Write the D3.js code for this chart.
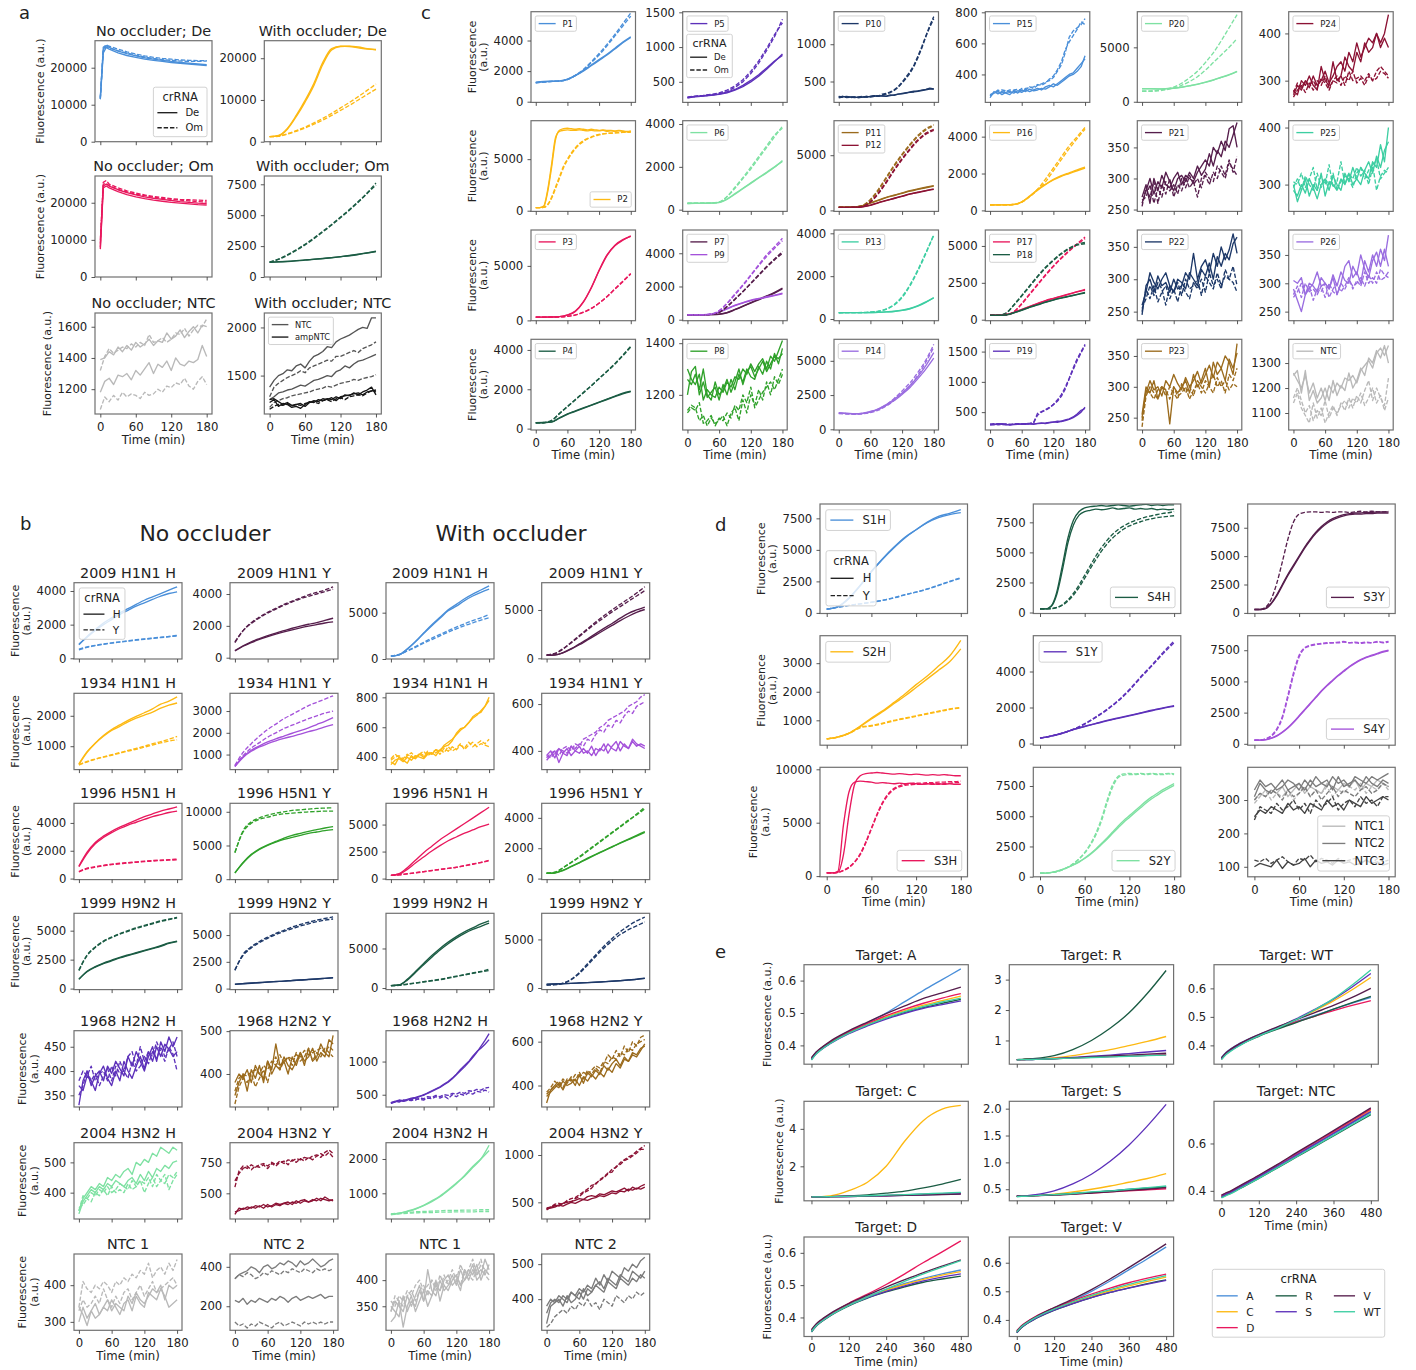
<!DOCTYPE html>
<html><head><meta charset="utf-8">
<script src="https://cdn.jsdelivr.net/npm/d3@7"></script>
<style>
body{margin:0;background:#fff}
svg{display:block}
text{font-family:"DejaVu Sans",sans-serif;fill:#222}
</style>
</head><body>
<svg id="fig" width="1416" height="1370"></svg>
<script>
// ---------- sampling times (min) ----------
const T13=[0,15,30,45,60,75,90,105,120,135,150,165,180];
const T25=[0,7.5,15,22.5,30,37.5,45,52.5,60,67.5,75,82.5,90,97.5,105,112.5,120,127.5,135,142.5,150,157.5,165,172.5,180];
const TA=[0,5,10,15,30,45,60,75,90,105,120,135,150,165,180];
const TE=[0,15,30,60,120,180,240,300,360,420,480];

// ---------- colours ----------
const COL={blue:"#4a8fd9",yellow:"#fdb913",red:"#e8185d",dgreen:"#1b5c44",purple:"#5d31ba",lpurple:"#a452da",
  lav:"#9a6de0",dpurple:"#561e4c",navy:"#1d3868",teal:"#3dcea2",lgreen:"#7ee1a2",green:"#2fa12a",brown:"#9b6b1d",
  crimson:"#8c1234",lgray:"#b9b9b9",gray:"#7c7c7c",dgray:"#444444",ntc:"#555555",black:"#161616",key:"#222222"};

// ---------- a: series [colour, dashed, values] ----------
const aNoDe=[
 ["blue",0,[11500,24000,25500,25000,24000,23300,22800,22300,22000,21700,21400,21200,21000,20800,20600]],
 ["blue",0,[12000,25000,26000,25500,24500,23800,23200,22700,22300,22000,21700,21400,21200,21000,20800]],
 ["blue",1,[11500,25500,26200,25800,25000,24300,23700,23200,22800,22500,22300,22100,22000,21900,21900]],
 ["blue",1,[11800,24800,25600,25300,24600,24000,23400,22900,22500,22200,22000,21800,21700,21700,21800]]];
const aWiDe=[
 ["yellow",0,[1200,1400,3000,6000,9500,13500,18500,22000,22800,22900,22700,22300,22000]],
 ["yellow",0,[1200,1500,3200,6300,9900,14000,19000,22300,22900,22800,22500,22200,22100]],
 ["yellow",1,[1200,1300,1800,2500,3300,4200,5200,6300,7500,8700,10000,11300,12600]],
 ["yellow",1,[1200,1350,1900,2650,3500,4500,5600,6800,8100,9400,10800,12300,13800]]];
const aNoOm=[
 ["red",0,[7500,24000,24500,24000,23000,22200,21600,21100,20700,20400,20100,19900,19700,19500,19400]],
 ["red",0,[8000,24500,25000,24500,23500,22700,22100,21600,21200,20900,20600,20300,20100,19900,19800]],
 ["red",1,[10000,25500,26000,25000,24000,23200,22600,22100,21700,21400,21100,20900,20800,20700,20600]],
 ["red",1,[9000,25000,25200,24600,23600,22900,22300,21900,21500,21200,20900,20700,20500,20300,20200]]];
const aWiOm=[
 ["dgreen",0,[1200,1230,1270,1320,1380,1440,1500,1570,1650,1740,1840,1950,2080]],
 ["dgreen",0,[1180,1220,1250,1300,1360,1420,1490,1560,1640,1720,1820,1940,2050]],
 ["dgreen",1,[1200,1450,1800,2200,2650,3150,3700,4250,4850,5450,6100,6800,7600]],
 ["dgreen",1,[1200,1420,1750,2150,2600,3100,3650,4200,4800,5400,6050,6750,7450]]];
const aNoNTC=[
 ["lgray",0,[1390,1400,1440,1420,1470,1440,1480,1450,1500,1470,1490,1520,1480,1510,1500,1560,1520,1540,1580,1530,1570,1600,1560,1610,1600]],
 ["lgray",1,[1320,1410,1460,1430,1450,1470,1460,1490,1470,1500,1480,1550,1500,1510,1530,1500,1520,1560,1550,1590,1540,1580,1610,1600,1650]],
 ["lgray",0,[1180,1250,1270,1230,1290,1280,1300,1260,1320,1290,1330,1370,1300,1360,1340,1380,1320,1400,1360,1350,1380,1370,1390,1480,1410]],
 ["lgray",1,[1070,1150,1120,1160,1130,1180,1150,1170,1160,1140,1180,1160,1170,1200,1180,1220,1210,1240,1230,1270,1220,1200,1250,1280,1230]]];
const aWiNTC=[
 ["ntc",0,[1380,1450,1500,1520,1560,1550,1600,1620,1580,1650,1700,1720,1750,1800,1790,1850,1880,1900,1920,1950,1980,2000,1990,2100,2100]],
 ["ntc",1,[1280,1380,1420,1450,1480,1500,1520,1550,1530,1580,1600,1620,1640,1660,1650,1700,1700,1720,1740,1760,1740,1780,1800,1820,1850]],
 ["ntc",0,[1250,1280,1320,1330,1350,1360,1380,1400,1390,1420,1450,1460,1480,1500,1490,1540,1560,1600,1580,1620,1650,1660,1680,1700,1720]],
 ["ntc",1,[1170,1220,1240,1260,1270,1290,1300,1310,1320,1330,1350,1360,1370,1390,1380,1400,1420,1430,1440,1460,1450,1470,1480,1490,1510]],
 ["black",0,[1250,1260,1230,1200,1220,1190,1200,1210,1180,1220,1240,1230,1260,1250,1270,1240,1280,1290,1300,1310,1320,1300,1330,1340,1350]],
 ["black",0,[1220,1250,1180,1210,1200,1170,1180,1160,1200,1230,1220,1250,1240,1260,1250,1280,1260,1300,1290,1320,1300,1330,1350,1380,1300]],
 ["black",1,[1150,1180,1200,1190,1210,1180,1200,1190,1210,1220,1230,1210,1240,1250,1230,1260,1270,1250,1280,1290,1300,1290,1320,1340,1330]]];

// ---------- c ----------
const cP1=[
 ["blue",0,[1250,1300,1330,1350,1450,1700,2000,2350,2700,3050,3450,3850,4200]],
 ["blue",0,[1270,1320,1340,1360,1480,1720,2050,2400,2750,3100,3500,3900,4250]],
 ["blue",1,[1230,1280,1320,1350,1450,1700,2050,2550,3050,3650,4300,4950,5600]],
 ["blue",1,[1240,1290,1330,1360,1460,1720,2100,2600,3150,3750,4400,5100,5800]]];
const cP5=[
 ["purple",0,[280,290,300,310,320,340,380,430,500,580,680,790,900]],
 ["purple",0,[270,285,295,305,325,350,390,450,520,600,700,800,880]],
 ["purple",1,[270,290,300,310,330,360,420,500,620,770,950,1150,1400]],
 ["purple",1,[280,295,305,320,340,380,440,530,650,800,980,1180,1350]]];
const cP10=[
 ["navy",1,[290,300,285,290,295,285,290,300,295,300,310,320,330,350,380,420,480,540,610,700,820,950,1100,1230,1340]],
 ["navy",1,[280,290,295,285,290,295,300,290,300,310,300,330,340,360,390,430,490,560,630,720,840,970,1110,1250,1370]],
 ["navy",0,[290,300,290,295,290,285,290,300,295,300,310,305,300,310,320,330,340,350,355,360,370,380,390,400,400]],
 ["navy",0,[300,295,300,290,285,290,295,290,300,310,300,310,305,320,315,330,335,345,360,370,375,385,395,410,400]]];
const cP15=[
 ["blue",0,[260,280,290,270,285,290,280,295,285,300,290,300,310,300,320,330,320,340,360,380,400,410,440,470,500]],
 ["blue",0,[250,290,275,290,280,270,295,280,300,290,305,295,300,310,305,320,340,330,350,370,390,400,420,450,520]],
 ["blue",1,[270,280,300,285,290,300,295,290,310,300,320,310,330,340,350,360,380,420,460,540,640,680,700,720,760]],
 ["blue",1,[265,285,290,300,295,285,300,305,295,310,315,320,335,330,345,370,390,430,480,560,610,650,690,740,720]]];
const cP20=[
 ["lgreen",0,[1200,1200,1180,1200,1250,1350,1480,1620,1800,2000,2250,2500,2800]],
 ["lgreen",0,[1180,1190,1170,1190,1240,1330,1460,1600,1780,1990,2230,2480,2780]],
 ["lgreen",1,[1000,1000,1050,1150,1350,1700,2200,2800,3600,4500,5600,6800,8000]],
 ["lgreen",1,[950,950,1000,1100,1250,1500,1850,2300,2900,3600,4300,5000,5800]]];
const cP24=[
 ["crimson",0,[270,290,280,300,285,310,290,300,320,295,310,330,340,320,360,340,380,350,370,390,380,400,380,400,440]],
 ["crimson",0,[280,270,300,290,310,290,280,330,300,290,340,300,310,350,330,320,360,340,380,360,370,400,370,390,370]],
 ["crimson",1,[265,280,290,275,295,280,300,290,310,285,300,295,310,290,320,300,305,310,300,315,300,305,320,315,305]],
 ["crimson",1,[275,295,285,300,290,300,285,305,295,280,300,310,290,310,300,320,295,305,290,310,300,320,330,320,310]]];
const cP2=[
 ["yellow",0,[300,300,400,1800,4200,6900,7800,7950,8000,7950,7900,7950,7900,7850,7900,7850,7800,7850,7800,7800,7750,7800,7750,7700,7750]],
 ["yellow",0,[300,300,450,2000,4500,7100,7700,7800,7850,7800,7800,7850,7800,7750,7800,7750,7750,7800,7700,7750,7700,7750,7700,7650,7700]],
 ["yellow",1,[300,300,330,600,1300,2300,3300,4300,5000,5600,6100,6500,6800,7000,7150,7300,7400,7450,7500,7550,7550,7600,7600,7650,7650]],
 ["yellow",1,[300,300,320,550,1200,2150,3150,4150,4900,5500,6000,6400,6700,6950,7100,7250,7350,7450,7500,7500,7550,7550,7600,7600,7600]]];
const cP6=[
 ["lgreen",0,[300,300,300,310,340,500,750,1000,1250,1500,1750,2000,2250]],
 ["lgreen",0,[290,295,300,305,330,480,720,980,1230,1480,1720,1980,2300]],
 ["lgreen",1,[300,300,300,310,350,600,1000,1450,1900,2400,2900,3400,3900]],
 ["lgreen",1,[290,300,305,310,360,620,1050,1500,1980,2480,2980,3480,3800]]];
const cP11=[
 ["brown",0,[300,300,310,400,650,900,1150,1350,1550,1750,1900,2050,2200]],
 ["brown",0,[300,300,320,420,680,940,1180,1380,1580,1780,1950,2100,2250]],
 ["crimson",0,[280,280,290,330,480,700,900,1100,1300,1500,1650,1800,1950]],
 ["crimson",0,[270,275,285,320,460,680,880,1080,1270,1470,1620,1780,1900]],
 ["brown",1,[300,300,320,450,1000,1900,3000,4100,5100,6000,6800,7400,7750]],
 ["brown",1,[300,300,310,420,950,1800,2900,4000,5000,5900,6700,7300,7650]],
 ["crimson",1,[280,280,290,380,800,1600,2600,3700,4700,5600,6400,7000,7350]],
 ["crimson",1,[280,280,285,360,750,1500,2500,3600,4600,5500,6300,6900,7250]]];
const cP16=[
 ["yellow",0,[300,300,300,320,450,750,1100,1400,1650,1850,2000,2150,2300]],
 ["yellow",0,[290,300,305,330,470,780,1130,1420,1680,1880,2040,2200,2350]],
 ["yellow",1,[300,300,300,320,450,750,1150,1700,2300,2900,3500,4000,4500]],
 ["yellow",1,[300,300,300,320,450,750,1100,1550,2150,2750,3350,3900,4400]]];
const cP21=[
 ["dpurple",0,[270,290,260,300,280,305,290,285,300,310,290,305,300,295,310,320,330,320,350,340,360,345,380,385,350]],
 ["dpurple",0,[260,280,300,275,295,285,310,295,280,300,305,295,310,300,320,305,315,340,320,345,335,360,350,370,390]],
 ["dpurple",1,[255,285,270,295,260,290,275,300,270,290,280,300,285,295,270,300,305,290,310,300,320,305,330,310,335]],
 ["dpurple",1,[265,270,290,260,285,270,295,280,290,275,300,285,305,290,300,285,310,300,295,320,310,300,325,315,305]]];
const cP25=[
 ["teal",0,[300,270,290,310,280,300,290,320,280,305,300,290,310,300,320,300,310,330,320,310,340,330,370,340,400]],
 ["teal",0,[290,280,300,285,310,295,275,300,310,290,315,300,290,320,305,330,310,300,325,340,320,350,330,360,375]],
 ["teal",1,[305,300,320,295,310,330,290,315,300,335,295,305,340,300,320,310,330,315,325,300,330,345,310,320,330]],
 ["teal",1,[295,310,290,315,300,290,320,295,310,300,320,290,305,315,310,295,320,330,310,325,335,290,315,325,320]]];
const cP3=[
 ["red",0,[300,300,310,350,500,850,1700,3000,4600,6000,6900,7400,7700]],
 ["red",0,[300,300,310,340,480,820,1650,2950,4550,5950,6850,7350,7750]],
 ["red",1,[300,300,300,320,380,500,750,1100,1600,2200,2900,3600,4300]],
 ["red",1,[300,300,300,315,370,490,730,1080,1570,2170,2860,3550,4250]]];
const cP7=[
 ["dpurple",0,[300,300,300,310,330,420,600,800,1000,1200,1400,1600,1850]],
 ["dpurple",0,[290,295,300,310,340,430,620,820,1030,1230,1430,1640,1900]],
 ["lpurple",0,[300,300,300,320,450,650,850,1000,1150,1250,1350,1450,1550]],
 ["lpurple",0,[300,300,305,330,470,670,870,1030,1170,1280,1380,1480,1600]],
 ["dpurple",1,[300,300,300,320,450,800,1250,1700,2200,2700,3200,3650,4100]],
 ["dpurple",1,[300,300,300,320,440,780,1220,1680,2170,2660,3150,3600,4000]],
 ["lpurple",1,[300,300,300,340,550,1000,1550,2100,2700,3300,3900,4400,4900]],
 ["lpurple",1,[300,300,300,330,530,960,1500,2050,2650,3250,3800,4300,4750]]];
const cP13=[
 ["teal",0,[300,300,300,300,300,310,330,350,400,480,600,780,1000]],
 ["teal",0,[290,295,300,300,305,315,335,360,410,490,620,800,980]],
 ["teal",1,[300,300,300,300,320,360,450,650,1000,1550,2250,3050,3950]],
 ["teal",1,[290,300,300,305,325,370,470,680,1050,1600,2300,3100,3900]]];
const cP17=[
 ["red",1,[300,300,320,550,1100,1750,2400,3050,3650,4200,4700,5150,5600]],
 ["red",1,[300,300,310,520,1050,1700,2350,3000,3600,4150,4650,5100,5500]],
 ["dgreen",1,[300,300,450,1000,1650,2300,2950,3550,4050,4500,4850,5100,5250]],
 ["dgreen",1,[300,300,430,980,1600,2250,2900,3500,4000,4450,4800,5050,5150]],
 ["red",0,[300,300,350,500,700,900,1100,1300,1450,1600,1750,1900,2050]],
 ["red",0,[300,300,340,490,690,880,1080,1270,1430,1580,1730,1880,2000]],
 ["dgreen",0,[300,300,330,470,650,850,1020,1200,1350,1480,1600,1720,1850]],
 ["dgreen",0,[290,295,320,460,640,830,1000,1180,1330,1460,1580,1700,1800]]];
const cP22=[
 ["navy",0,[245,290,300,280,305,290,295,280,300,285,290,310,300,340,300,320,330,310,340,320,350,330,345,370,340]],
 ["navy",0,[260,280,310,295,285,300,310,290,280,300,295,285,310,300,290,315,305,325,300,335,320,340,330,355,365]],
 ["navy",1,[250,285,270,290,265,280,290,270,285,265,290,280,270,295,285,300,280,310,290,300,285,315,300,320,290]],
 ["navy",1,[255,270,290,275,295,285,260,290,280,295,275,300,285,290,300,275,305,295,285,310,290,305,300,295,280]]];
const cP26=[
 ["lav",0,[305,300,310,280,290,300,320,295,300,290,310,280,300,330,340,310,320,300,340,320,350,330,360,340,385]],
 ["lav",0,[290,270,250,280,300,295,285,310,300,290,315,295,320,305,300,330,315,350,325,310,340,355,330,360,330]],
 ["lav",1,[280,295,275,300,285,290,280,295,275,300,285,280,300,290,305,295,300,310,295,315,300,320,305,310,320]],
 ["lav",1,[275,285,300,280,295,270,290,285,300,275,290,300,285,295,310,290,305,295,320,300,310,300,325,315,310]]];
const cP4=[
 ["dgreen",0,[300,310,340,550,750,900,1050,1200,1350,1500,1650,1800,1900]],
 ["dgreen",0,[290,300,330,530,730,880,1030,1180,1330,1480,1630,1770,1880]],
 ["dgreen",1,[300,310,420,780,1130,1480,1830,2180,2550,2920,3300,3740,4180]],
 ["dgreen",1,[290,300,400,760,1110,1460,1810,2170,2540,2900,3280,3700,4150]]];
const cP8=[
 ["green",0,[1300,1260,1240,1280,1180,1220,1200,1190,1230,1210,1250,1230,1270,1260,1300,1280,1320,1290,1320,1340,1300,1350,1330,1370,1410]],
 ["green",0,[1200,1290,1310,1200,1250,1190,1210,1230,1180,1240,1200,1260,1220,1280,1250,1300,1270,1260,1310,1280,1330,1300,1360,1320,1380]],
 ["green",0,[1260,1240,1280,1220,1300,1200,1180,1250,1200,1220,1260,1210,1250,1300,1240,1290,1310,1270,1300,1330,1290,1320,1350,1340,1360]],
 ["green",1,[1140,1160,1150,1100,1120,1080,1110,1090,1100,1120,1080,1130,1150,1100,1180,1130,1200,1160,1220,1180,1250,1200,1270,1240,1280]],
 ["green",1,[1130,1150,1140,1170,1090,1100,1120,1080,1110,1100,1130,1110,1160,1140,1200,1170,1230,1150,1180,1210,1230,1250,1220,1260,1300]]];
const cP14=[
 ["lav",0,[1200,1150,1120,1150,1250,1450,1750,2100,2550,3050,3700,4400,5200]],
 ["lav",0,[1200,1170,1140,1180,1300,1500,1800,2200,2650,3200,3850,4650,5600]],
 ["lav",1,[1150,1120,1100,1130,1220,1400,1700,2100,2600,3200,3950,4900,6000]],
 ["lav",1,[1180,1150,1120,1160,1280,1480,1800,2250,2800,3400,4150,5050,6200]]];
const cP19=[
 ["purple",0,[300,290,310,300,290,300,295,300,305,300,310,305,310,315,320,330,340,330,350,370,390,420,470,530,560]],
 ["purple",0,[290,300,300,310,295,290,300,305,300,310,305,300,315,320,310,325,335,350,345,360,380,410,450,500,580]],
 ["purple",1,[300,310,290,300,305,295,300,310,305,300,310,330,480,510,540,580,620,680,760,880,1050,1200,1350,1480,1600]],
 ["purple",1,[290,300,310,295,300,290,305,300,300,310,315,320,450,500,530,570,630,700,790,910,1060,1230,1380,1500,1620]]];
const cP23=[
 ["brown",0,[255,300,290,310,280,300,295,240,300,290,300,310,290,320,300,310,330,300,340,320,330,350,340,320,370]],
 ["brown",0,[250,290,310,295,300,285,310,300,320,305,295,315,300,310,325,305,320,335,315,340,330,310,345,330,355]],
 ["brown",1,[235,285,300,290,280,300,295,280,300,285,290,300,280,295,305,290,310,300,290,315,300,310,295,305,300]],
 ["brown",1,[245,295,290,280,295,300,285,300,290,280,305,290,300,285,310,300,290,305,320,300,310,290,320,310,330]]];
const cNTC=[
 ["lgray",0,[1260,1230,1200,1250,1180,1220,1160,1200,1150,1210,1180,1220,1200,1240,1230,1250,1220,1270,1290,1310,1280,1340,1360,1330,1370]],
 ["lgray",0,[1250,1270,1180,1270,1150,1190,1140,1160,1200,1150,1230,1170,1210,1190,1260,1200,1230,1280,1250,1320,1300,1350,1320,1370,1300]],
 ["lgray",1,[1140,1180,1120,1090,1060,1140,1080,1120,1060,1100,1130,1090,1140,1110,1160,1120,1170,1140,1190,1230,1150,1200,1160,1130,1240]],
 ["lgray",1,[1160,1200,1150,1100,1130,1070,1110,1090,1150,1080,1120,1100,1130,1150,1120,1160,1140,1180,1130,1160,1200,1140,1170,1110,1160]]];

// ---------- b ----------
const bNo09H=[
 ["blue",0,[800,1300,1700,2100,2400,2700,2950,3200,3450,3650,3850,4050,4250]],
 ["blue",0,[850,1250,1650,2000,2300,2600,2850,3100,3300,3500,3700,3850,3950]],
 ["blue",1,[500,650,750,830,900,960,1020,1080,1130,1180,1230,1280,1330]],
 ["blue",1,[550,680,770,850,920,980,1040,1100,1150,1200,1250,1300,1370]]];
const bNo09Y=[
 ["dpurple",1,[950,1700,2200,2550,2850,3100,3350,3550,3750,3950,4100,4250,4450]],
 ["dpurple",1,[1000,1700,2150,2500,2800,3050,3300,3500,3700,3850,4000,4150,4300]],
 ["dpurple",0,[450,750,1000,1200,1380,1550,1700,1850,1980,2100,2200,2350,2480]],
 ["dpurple",0,[420,720,950,1150,1320,1480,1620,1750,1870,1980,2080,2180,2250]]];
const bWi09H=[
 ["blue",0,[300,450,1100,1900,2800,3700,4500,5300,5900,6500,7000,7450,7900]],
 ["blue",0,[300,450,1050,1850,2750,3600,4400,5200,5700,6300,6800,7200,7550]],
 ["blue",1,[300,500,900,1350,1800,2250,2650,3050,3450,3800,4150,4450,4800]],
 ["blue",1,[300,480,850,1250,1700,2100,2500,2900,3250,3600,3900,4200,4450]]];
const bWi09Y=[
 ["dpurple",1,[350,500,1000,1650,2350,3050,3750,4400,5000,5600,6150,6750,7400]],
 ["dpurple",1,[350,480,950,1600,2250,2950,3600,4200,4800,5350,5900,6450,7000]],
 ["dpurple",0,[300,350,600,1000,1500,2000,2550,3100,3600,4150,4650,5000,5300]],
 ["dpurple",0,[300,340,560,950,1400,1900,2400,2900,3400,3900,4350,4750,5050]]];
const bNo34H=[
 ["yellow",0,[400,800,1100,1350,1550,1700,1850,1980,2100,2230,2380,2480,2620]],
 ["yellow",0,[420,820,1100,1330,1520,1650,1800,1920,2020,2120,2250,2350,2420]],
 ["yellow",1,[380,500,580,650,720,790,860,930,1000,1080,1150,1230,1320]],
 ["yellow",1,[400,480,570,640,700,770,840,900,970,1040,1110,1170,1210]]];
const bNo34Y=[
 ["lpurple",1,[500,1100,1500,1850,2150,2400,2650,2850,3050,3250,3400,3550,3700]],
 ["lpurple",1,[480,950,1300,1550,1800,2000,2200,2350,2500,2650,2780,2900,3000]],
 ["lpurple",0,[450,900,1200,1400,1580,1720,1850,1980,2100,2230,2380,2530,2700]],
 ["lpurple",0,[450,870,1150,1350,1500,1630,1740,1840,1940,2050,2150,2270,2380]]];
const bWi34H=[
 ["yellow",0,[350,380,390,370,400,380,410,400,390,420,430,410,450,470,480,510,560,590,600,630,660,680,710,740,780]],
 ["yellow",0,[370,350,400,380,360,410,390,420,400,430,420,450,440,480,500,520,550,580,600,630,670,690,700,740,800]],
 ["yellow",1,[390,420,400,380,410,430,400,420,440,410,430,450,420,460,440,470,450,480,460,500,470,490,510,490,520]],
 ["yellow",1,[380,400,410,390,420,400,390,430,410,440,420,430,450,430,470,440,460,490,450,480,500,470,490,480,470]]];
const bWi34Y=[
 ["lpurple",0,[360,380,400,350,390,410,380,400,420,390,400,380,410,400,430,390,420,440,400,430,410,440,420,430,420]],
 ["lpurple",0,[380,400,370,410,390,380,420,400,390,410,390,420,380,410,400,430,410,400,440,420,410,450,430,420,410]],
 ["lpurple",1,[370,390,400,380,410,420,400,430,420,450,460,470,480,500,510,530,540,550,560,570,590,600,610,630,640]],
 ["lpurple",1,[380,370,390,410,400,390,420,410,430,420,450,440,470,490,480,510,500,530,520,550,570,560,590,600,610]]];
const bNo96H=[
 ["red",0,[900,1900,2600,3050,3400,3700,3950,4200,4450,4650,4850,5000,5150]],
 ["red",0,[850,1800,2500,2950,3300,3600,3850,4050,4250,4450,4600,4750,4850]],
 ["red",1,[500,750,850,950,1030,1100,1150,1200,1250,1300,1330,1360,1400]],
 ["red",1,[480,700,820,920,1000,1060,1120,1170,1220,1260,1300,1330,1350]]];
const bNo96Y=[
 ["green",1,[3900,7200,8500,9100,9500,9800,10000,10200,10300,10400,10500,10550,10600]],
 ["green",1,[4000,7000,8300,8900,9200,9500,9700,9800,9900,10000,10050,10100,10100]],
 ["green",0,[900,2500,3700,4500,5100,5600,6100,6500,6800,7100,7350,7600,7800]],
 ["green",0,[950,2400,3600,4400,5000,5500,5900,6200,6500,6800,7000,7200,7350]]];
const bWi96H=[
 ["red",0,[300,450,1000,1700,2400,3000,3600,4100,4600,5100,5600,6100,6600]],
 ["red",0,[300,400,850,1450,2000,2550,3050,3500,3850,4200,4500,4800,5050]],
 ["red",1,[300,350,450,550,650,750,850,950,1050,1200,1350,1500,1700]],
 ["red",1,[300,340,430,530,630,740,840,940,1040,1180,1330,1480,1650]]];
const bWi96Y=[
 ["green",1,[350,400,700,1050,1400,1800,2200,2600,3000,3400,3800,4250,4700]],
 ["green",1,[350,420,720,1080,1450,1850,2250,2650,3050,3450,3850,4200,4600]],
 ["green",0,[350,380,550,800,1050,1350,1600,1850,2100,2350,2600,2850,3100]],
 ["green",0,[350,370,530,780,1030,1300,1570,1830,2080,2330,2570,2800,3050]]];
const bNo99H=[
 ["dgreen",1,[1600,2900,3600,4100,4450,4750,5000,5250,5450,5650,5850,6000,6150]],
 ["dgreen",1,[1550,2850,3550,4050,4400,4700,4950,5200,5400,5600,5800,5950,6100]],
 ["dgreen",0,[800,1500,1900,2200,2450,2700,2900,3100,3300,3500,3700,3950,4100]],
 ["dgreen",0,[820,1450,1850,2150,2400,2650,2850,3050,3250,3450,3650,3900,4050]]];
const bNo99Y=[
 ["navy",1,[1700,3200,3900,4400,4800,5150,5450,5750,6000,6200,6400,6550,6700]],
 ["navy",1,[1750,3100,3800,4300,4700,5050,5350,5600,5850,6050,6250,6400,6500]],
 ["navy",0,[400,450,500,550,600,650,700,750,800,850,900,950,1000]],
 ["navy",0,[420,470,520,570,620,660,700,760,800,860,900,960,1020]]];
const bWi99H=[
 ["dgreen",0,[300,400,1100,2100,3100,4100,5000,5800,6500,7100,7600,8100,8500]],
 ["dgreen",0,[300,380,1000,1950,2950,3900,4800,5600,6300,6900,7400,7800,8200]],
 ["dgreen",1,[300,350,500,650,800,950,1100,1300,1500,1700,1900,2100,2400]],
 ["dgreen",1,[300,340,480,620,760,900,1050,1250,1450,1650,1850,2050,2200]]];
const bWi99Y=[
 ["navy",1,[300,350,500,900,1600,2500,3400,4300,5100,5800,6400,6900,7300]],
 ["navy",1,[300,340,470,850,1500,2350,3250,4100,4850,5500,6000,6400,6800]],
 ["navy",0,[400,420,450,480,520,560,600,650,700,760,830,900,1000]],
 ["navy",0,[380,410,440,470,510,550,590,640,690,750,820,890,990]]];
const bNo68H=[
 ["purple",0,[330,380,400,370,390,400,380,410,395,420,405,390,430,410,440,420,400,430,450,420,460,440,470,450,470]],
 ["purple",0,[370,360,390,380,360,395,410,385,370,400,380,420,400,385,410,430,405,440,420,450,430,455,445,430,440]],
 ["purple",1,[380,400,390,410,380,395,400,380,410,390,420,400,430,440,410,450,420,440,430,460,440,420,450,435,400]],
 ["purple",1,[350,370,400,380,395,370,390,405,380,410,395,400,385,420,400,410,430,415,440,425,450,430,445,460,430]]];
const bNo68Y=[
 ["brown",0,[350,380,400,360,410,390,420,380,430,410,470,420,430,400,440,420,450,430,440,460,430,450,440,480,470]],
 ["brown",0,[380,400,390,410,380,420,400,390,430,400,420,410,440,420,410,430,450,420,460,430,440,470,450,440,490]],
 ["brown",1,[330,370,390,380,400,370,390,410,380,420,440,410,430,440,420,450,430,440,460,430,450,440,460,450,440]],
 ["brown",1,[360,390,400,395,405,410,400,420,410,430,420,445,425,440,435,445,440,455,445,450,455,460,450,465,455]]];
const bWi68H=[
 ["purple",0,[380,390,410,400,420,440,450,470,500,520,550,580,610,650,690,740,800,860,920,990,1060,1140,1230,1320,1420]],
 ["purple",0,[370,400,420,410,430,450,460,480,490,530,560,590,620,660,700,750,810,880,940,1000,1080,1150,1200,1260,1330]],
 ["purple",1,[380,400,390,420,410,430,420,450,440,470,460,490,470,500,490,520,510,540,520,560,550,580,570,600,610]],
 ["purple",1,[370,390,410,400,420,410,440,430,420,450,440,470,450,480,440,500,470,510,490,530,510,550,540,570,540]]];
const bWi68Y=[
 ["brown",0,[320,380,400,390,420,400,410,430,400,440,420,450,430,460,440,480,460,500,480,520,510,540,530,560,590]],
 ["brown",0,[350,370,390,410,380,420,430,400,450,410,460,440,470,450,490,470,500,520,490,530,510,550,540,570,580]],
 ["brown",1,[370,390,420,400,430,410,440,420,460,430,470,450,480,460,500,540,520,560,530,580,550,600,580,620,630]],
 ["brown",1,[360,380,400,420,390,430,420,450,440,460,450,470,490,480,510,500,530,520,550,540,570,560,590,600,610]]];
const bNo04H=[
 ["lgreen",0,[340,380,400,420,410,430,420,450,440,460,450,470,480,460,500,490,510,500,530,520,550,540,530,550,540]],
 ["lgreen",0,[330,370,390,410,400,420,410,430,420,440,430,420,440,450,430,460,440,470,450,480,470,490,480,500,505]],
 ["lgreen",1,[350,360,380,400,390,410,400,420,400,410,430,420,410,440,420,440,430,450,420,460,440,430,460,450,470]],
 ["lgreen",1,[340,390,380,370,400,390,410,390,420,400,410,400,430,410,420,440,400,430,450,420,440,460,410,440,460]]];
const bNo04Y=[
 ["crimson",1,[550,680,720,700,730,710,730,740,720,750,730,760,740,770,760,780,770,790,780,800,810,790,830,850,820]],
 ["crimson",1,[600,660,700,720,690,720,710,730,700,740,720,750,760,730,770,750,780,760,790,770,800,820,800,830,790]],
 ["crimson",0,[330,380,370,390,380,400,390,410,390,400,420,410,420,430,410,440,420,440,430,450,440,460,450,440,450]],
 ["crimson",0,[350,360,380,370,390,380,400,380,410,390,410,400,420,410,430,420,440,450,430,440,460,440,470,450,440]]];
const bWi04H=[
 ["lgreen",0,[400,420,480,550,650,780,920,1100,1300,1500,1750,2000,2400]],
 ["lgreen",0,[380,410,470,540,640,760,900,1080,1280,1520,1780,2000,2250]],
 ["lgreen",1,[400,420,440,460,470,480,490,500,500,510,510,520,520]],
 ["lgreen",1,[380,400,420,430,440,440,450,450,460,460,460,470,470]]];
const bWi04Y=[
 ["crimson",1,[430,450,470,460,490,510,500,540,560,600,620,650,700,730,760,800,850,870,920,950,980,1000,1040,1070,1100]],
 ["crimson",1,[440,450,480,490,480,520,540,550,580,610,640,680,690,740,770,810,820,880,900,940,960,990,1020,1060,1060]],
 ["crimson",0,[420,450,460,470,490,500,510,520,540,530,560,570,560,590,580,600,620,610,630,650,620,660,640,670,690]],
 ["crimson",0,[430,440,450,470,460,480,500,490,510,530,520,540,550,570,560,580,600,590,620,610,640,630,650,640,660]]];
const bNoNTC1=[
 ["lgray",1,[340,410,390,380,400,390,410,400,380,410,400,420,410,430,420,440,430,460,420,440,450,430,460,440,470]],
 ["lgray",0,[300,340,310,330,350,320,340,360,330,350,340,330,370,350,380,360,350,370,390,380,400,360,400,390,400]],
 ["lgray",0,[340,320,290,330,310,320,340,330,360,340,320,350,360,330,370,350,340,380,370,360,390,370,340,350,360]],
 ["lgray",1,[330,360,340,350,370,350,390,360,340,370,350,380,390,360,380,400,370,390,410,380,390,400,410,420,400]]];
const bNoNTC2=[
 ["gray",0,[340,360,370,380,400,390,370,400,410,390,400,420,410,430,420,400,430,410,420,440,420,400,410,430,440]],
 ["gray",1,[340,360,350,370,360,340,350,370,360,380,370,360,380,370,390,380,370,390,380,370,390,380,390,380,390]],
 ["gray",0,[230,220,240,210,230,220,240,230,220,240,230,250,240,220,240,250,230,240,250,240,250,260,240,250,250]],
 ["gray",1,[120,100,110,90,110,100,120,110,100,90,110,120,100,110,120,110,100,120,110,120,110,120,110,120,120]]];
const bWiNTC1=[
 ["lgray",0,[320,330,360,310,350,370,340,360,380,350,370,400,360,390,380,400,410,390,400,420,410,430,400,420,410]],
 ["lgray",0,[350,340,330,370,340,360,350,380,360,420,380,370,400,380,390,410,390,420,400,410,430,400,410,440,420]],
 ["lgray",0,[340,360,350,340,370,350,370,390,360,380,370,390,380,400,410,390,400,380,420,400,420,410,420,410,430]],
 ["lgray",1,[360,350,370,360,380,370,390,400,380,390,400,380,410,390,400,420,400,430,410,420,440,410,430,420,410]],
 ["lgray",1,[340,370,360,350,370,380,360,380,390,370,400,390,380,410,390,400,410,390,420,410,400,420,440,410,400]]];
const bWiNTC2=[
 ["gray",0,[360,390,400,390,410,400,420,410,430,420,440,430,460,440,470,450,480,470,460,490,480,500,490,510,520]],
 ["gray",0,[330,380,390,400,380,410,390,400,420,400,430,420,440,450,430,460,450,440,470,460,450,480,470,460,480]],
 ["gray",0,[380,400,390,410,400,390,420,410,400,430,410,420,440,430,420,450,440,430,460,450,440,460,450,470,460]],
 ["gray",1,[320,330,350,360,370,360,380,370,390,380,400,380,390,370,400,390,380,410,400,390,410,400,420,410,420]]];

// ---------- d ----------
const dS1H=[
 ["blue",0,[300,500,1200,2200,3300,4300,5200,6000,6600,7200,7650,7900,8200]],
 ["blue",0,[300,480,1150,2150,3250,4250,5150,5950,6600,7150,7550,7800,7950]],
 ["blue",1,[300,450,600,720,850,1000,1200,1450,1650,1900,2200,2500,2800]],
 ["blue",1,[300,440,590,710,840,990,1180,1430,1640,1880,2170,2470,2750]]];
const dS4H=[
 ["dgreen",0,[300,300,500,1500,3500,5800,7300,8100,8400,8500,8600,8550,8600,8700,8600,8650,8700,8600,8650,8600,8650,8550,8600,8550,8600]],
 ["dgreen",0,[300,300,550,1700,3900,6200,7700,8400,8700,8800,8850,8900,8850,8900,8950,8900,8850,8900,8950,9000,8900,8950,8900,8950,8950]],
 ["dgreen",1,[300,300,320,420,650,1050,1600,2300,3100,3900,4700,5400,6000,6500,6900,7200,7450,7650,7800,7950,8050,8150,8250,8300,8400]],
 ["dgreen",1,[300,300,310,400,600,950,1450,2100,2850,3650,4400,5100,5700,6200,6600,6950,7200,7400,7550,7700,7800,7900,7950,8000,8050]]];
const dS3Y=[
 ["dpurple",1,[300,300,500,1200,2600,4500,6500,8000,8700,8850,8900,8900,8850,8900,8850,8900,8900,8850,8900,8950,8900,8950,8900,8900,8950]],
 ["dpurple",0,[300,300,400,850,1600,2500,3400,4200,5000,5800,6500,7100,7600,8000,8300,8500,8650,8750,8800,8800,8850,8850,8900,8900,8900]],
 ["dpurple",0,[300,300,380,800,1500,2400,3300,4100,4900,5700,6400,7000,7500,7900,8200,8400,8550,8650,8700,8700,8750,8750,8800,8800,8800]]];
const dS2H=[
 ["yellow",0,[350,420,550,800,1080,1330,1620,1920,2250,2550,2900,3250,3800]],
 ["yellow",0,[350,410,540,780,1050,1300,1580,1850,2150,2450,2750,3050,3500]],
 ["yellow",1,[350,420,550,760,820,900,1000,1080,1160,1240,1320,1400,1450]],
 ["yellow",1,[350,410,540,740,800,880,980,1060,1140,1220,1300,1380,1430]]];
const dS1Y=[
 ["purple",1,[300,420,580,800,1100,1480,1900,2400,3000,3700,4350,5050,5700]],
 ["purple",1,[300,410,570,790,1080,1450,1870,2360,2950,3650,4300,4980,5600]],
 ["purple",0,[300,420,580,780,960,1120,1280,1420,1560,1700,1850,1980,2100]],
 ["purple",0,[300,410,570,770,940,1100,1260,1400,1540,1680,1820,1950,2060]]];
const dS4Y=[
 ["lpurple",1,[300,300,400,650,1200,2200,3900,5700,7100,7700,7900,8000,8050,8100,8100,8150,8200,8100,8150,8100,8150,8100,8200,8150,8200]],
 ["lpurple",1,[300,300,380,600,1100,2050,3700,5500,6950,7650,7850,7950,8000,8050,8100,8100,8150,8100,8100,8050,8100,8100,8150,8100,8150]],
 ["lpurple",0,[300,300,330,450,650,950,1300,1750,2250,2750,3250,3750,4250,4700,5100,5500,5850,6200,6500,6750,6950,7100,7250,7400,7500]],
 ["lpurple",0,[300,300,320,430,620,910,1260,1700,2200,2700,3200,3700,4200,4650,5050,5450,5800,6150,6450,6700,6900,7050,7200,7350,7450]]];
const dS3H=[
 ["red",0,[300,300,450,4800,7900,8800,8900,8850,8800,8700,8750,8700,8650,8700,8650,8700,8650,8600,8650,8600,8650,8600,8650,8600,8600]],
 ["red",0,[300,300,350,2000,5800,8600,9400,9600,9650,9700,9650,9600,9550,9600,9550,9500,9550,9500,9450,9500,9450,9500,9450,9400,9400]],
 ["red",1,[300,300,350,550,850,1350,2100,3200,4500,5800,6900,7700,8200,8450,8600,8650,8700,8700,8750,8750,8800,8800,8850,8850,8900]],
 ["red",1,[300,300,340,520,800,1300,2000,3100,4400,5700,6800,7600,8100,8350,8500,8550,8600,8600,8650,8650,8600,8650,8700,8750,8750]]];
const dS2Y=[
 ["lgreen",1,[300,300,340,430,580,800,1100,1500,2000,2700,3600,4800,6300,7600,8300,8500,8550,8500,8550,8500,8550,8500,8500,8550,8500]],
 ["lgreen",1,[300,300,340,420,560,780,1060,1450,1950,2600,3450,4600,6100,7400,8200,8400,8450,8450,8500,8450,8500,8450,8450,8500,8450]],
 ["lgreen",0,[300,300,350,450,600,780,1000,1250,1550,1900,2300,2750,3200,3700,4200,4650,5050,5450,5850,6250,6600,6900,7200,7450,7700]],
 ["lgreen",0,[300,300,340,440,580,760,970,1210,1500,1840,2230,2660,3100,3580,4050,4500,4900,5300,5700,6100,6450,6750,7050,7300,7550]]];
const dNTC=[
 ["lgray",0,[300,320,310,330,320,340,310,330,350,320,340,330,320,350,340,330,350,340,360,330,350,340,360,350,340]],
 ["lgray",1,[290,310,330,300,320,310,330,300,320,340,310,330,320,340,310,330,320,340,330,350,320,340,330,350,330]],
 ["gray",0,[330,360,340,350,330,340,360,350,330,360,340,370,350,340,370,350,360,340,370,360,350,370,360,370,380]],
 ["gray",0,[310,350,330,320,340,360,330,340,350,330,360,340,350,360,330,370,340,350,360,340,370,350,340,360,350]],
 ["gray",1,[300,320,310,330,320,300,330,310,320,340,310,330,300,320,340,310,330,320,310,330,340,320,330,350,340]],
 ["dgray",0,[250,270,260,280,270,260,290,270,280,260,290,280,270,300,280,290,270,300,290,280,310,290,300,310,300]],
 ["dgray",1,[240,280,270,260,290,270,280,300,270,290,260,300,280,290,310,270,290,300,280,310,290,300,280,310,310]],
 ["dgray",0,[100,110,105,100,120,95,115,105,110,125,100,120,110,115,105,120,110,115,105,110,120,110,115,105,110]],
 ["dgray",1,[120,115,125,110,120,130,115,105,125,120,135,115,125,120,110,125,115,120,125,115,120,110,125,115,120]]];

// ---------- e: crRNA curves per target ----------
const eA=[
 ["blue",0,[0.36,0.378,0.39,0.41,0.443,0.47,0.5,0.535,0.57,0.603,0.636]],
 ["yellow",0,[0.358,0.376,0.388,0.408,0.44,0.465,0.488,0.507,0.524,0.538,0.552]],
 ["red",0,[0.36,0.378,0.39,0.41,0.442,0.468,0.492,0.512,0.53,0.546,0.56]],
 ["dgreen",0,[0.357,0.375,0.387,0.407,0.438,0.462,0.484,0.502,0.517,0.53,0.542]],
 ["purple",0,[0.356,0.374,0.386,0.405,0.436,0.46,0.481,0.499,0.514,0.526,0.537]],
 ["dpurple",0,[0.362,0.38,0.392,0.413,0.445,0.472,0.498,0.522,0.545,0.562,0.58]],
 ["teal",0,[0.355,0.373,0.386,0.406,0.438,0.463,0.485,0.504,0.52,0.534,0.546]]];
const eR=[
 ["blue",0,[0.37,0.37,0.38,0.39,0.41,0.43,0.45,0.47,0.49,0.51,0.54]],
 ["yellow",0,[0.37,0.37,0.38,0.39,0.43,0.5,0.6,0.7,0.83,0.97,1.13]],
 ["red",0,[0.37,0.37,0.38,0.39,0.41,0.43,0.45,0.47,0.49,0.51,0.53]],
 ["dgreen",0,[0.37,0.38,0.39,0.41,0.5,0.7,1.0,1.4,1.9,2.55,3.3]],
 ["purple",0,[0.37,0.37,0.37,0.38,0.4,0.44,0.48,0.52,0.57,0.62,0.67]],
 ["dpurple",0,[0.37,0.37,0.37,0.38,0.4,0.43,0.46,0.49,0.52,0.55,0.58]],
 ["teal",0,[0.36,0.37,0.37,0.38,0.4,0.42,0.44,0.46,0.48,0.5,0.52]]];
const eWT=[
 ["blue",0,[0.358,0.376,0.388,0.408,0.438,0.462,0.484,0.505,0.527,0.548,0.568]],
 ["yellow",0,[0.352,0.37,0.383,0.403,0.435,0.462,0.49,0.522,0.556,0.595,0.638]],
 ["red",0,[0.355,0.373,0.386,0.406,0.436,0.46,0.482,0.502,0.522,0.54,0.557]],
 ["dgreen",0,[0.352,0.37,0.382,0.402,0.432,0.457,0.48,0.503,0.527,0.55,0.572]],
 ["purple",0,[0.352,0.37,0.383,0.403,0.435,0.463,0.493,0.526,0.562,0.605,0.652]],
 ["dpurple",0,[0.356,0.374,0.387,0.407,0.438,0.465,0.49,0.515,0.54,0.568,0.6]],
 ["teal",0,[0.35,0.368,0.38,0.4,0.433,0.46,0.49,0.525,0.564,0.612,0.665]]];
const eC=[
 ["blue",0,[0.37,0.37,0.37,0.38,0.4,0.42,0.45,0.48,0.51,0.54,0.58]],
 ["yellow",0,[0.37,0.37,0.38,0.42,0.7,1.15,2.0,3.35,4.45,5.05,5.25]],
 ["red",0,[0.37,0.37,0.37,0.38,0.4,0.42,0.44,0.47,0.5,0.53,0.56]],
 ["dgreen",0,[0.37,0.37,0.37,0.38,0.42,0.48,0.57,0.68,0.85,1.05,1.3]],
 ["purple",0,[0.37,0.37,0.37,0.38,0.39,0.41,0.43,0.45,0.48,0.51,0.53]],
 ["dpurple",0,[0.37,0.37,0.37,0.38,0.39,0.41,0.43,0.45,0.47,0.49,0.52]],
 ["teal",0,[0.37,0.37,0.37,0.38,0.4,0.43,0.46,0.49,0.53,0.57,0.61]]];
const eS=[
 ["blue",0,[0.37,0.37,0.37,0.38,0.4,0.42,0.44,0.47,0.5,0.52,0.55]],
 ["yellow",0,[0.37,0.37,0.37,0.38,0.41,0.45,0.5,0.56,0.63,0.7,0.79]],
 ["red",0,[0.37,0.37,0.37,0.38,0.4,0.41,0.43,0.45,0.47,0.49,0.51]],
 ["dgreen",0,[0.37,0.37,0.37,0.38,0.4,0.42,0.44,0.47,0.49,0.52,0.54]],
 ["purple",0,[0.37,0.37,0.38,0.4,0.47,0.6,0.78,1.02,1.32,1.68,2.08]],
 ["dpurple",0,[0.37,0.37,0.37,0.38,0.39,0.41,0.43,0.45,0.48,0.5,0.53]],
 ["teal",0,[0.36,0.37,0.37,0.38,0.4,0.42,0.45,0.47,0.5,0.53,0.56]]];
const eNTC=[
 ["blue",0,[0.374,0.384,0.392,0.413,0.457,0.502,0.548,0.594,0.64,0.686,0.732]],
 ["yellow",0,[0.378,0.388,0.396,0.418,0.462,0.507,0.553,0.6,0.646,0.692,0.74]],
 ["red",0,[0.38,0.39,0.398,0.42,0.464,0.51,0.557,0.604,0.65,0.697,0.745]],
 ["dgreen",0,[0.372,0.382,0.39,0.41,0.453,0.497,0.542,0.587,0.632,0.677,0.722]],
 ["purple",0,[0.376,0.386,0.394,0.416,0.46,0.505,0.551,0.597,0.643,0.689,0.735]],
 ["dpurple",0,[0.382,0.392,0.4,0.422,0.466,0.512,0.56,0.607,0.654,0.702,0.75]],
 ["teal",0,[0.37,0.38,0.388,0.41,0.453,0.498,0.543,0.589,0.634,0.68,0.726]]];
const eD=[
 ["blue",0,[0.358,0.376,0.388,0.408,0.44,0.465,0.486,0.505,0.521,0.535,0.547]],
 ["yellow",0,[0.357,0.375,0.387,0.407,0.438,0.463,0.484,0.502,0.518,0.531,0.542]],
 ["red",0,[0.36,0.378,0.39,0.41,0.444,0.472,0.502,0.535,0.57,0.603,0.637]],
 ["dgreen",0,[0.355,0.373,0.385,0.405,0.436,0.46,0.479,0.495,0.509,0.519,0.528]],
 ["purple",0,[0.356,0.374,0.386,0.406,0.437,0.461,0.481,0.498,0.513,0.525,0.535]],
 ["dpurple",0,[0.362,0.38,0.392,0.412,0.443,0.469,0.494,0.517,0.539,0.559,0.578]],
 ["teal",0,[0.356,0.374,0.386,0.406,0.437,0.463,0.488,0.512,0.535,0.556,0.576]]];
const eV=[
 ["blue",0,[0.356,0.374,0.386,0.406,0.438,0.468,0.5,0.536,0.575,0.614,0.655]],
 ["yellow",0,[0.357,0.375,0.387,0.407,0.437,0.461,0.483,0.502,0.519,0.535,0.55]],
 ["red",0,[0.362,0.38,0.392,0.412,0.442,0.467,0.49,0.511,0.53,0.546,0.56]],
 ["dgreen",0,[0.355,0.373,0.385,0.404,0.433,0.457,0.478,0.496,0.512,0.527,0.54]],
 ["purple",0,[0.356,0.374,0.386,0.405,0.434,0.457,0.478,0.496,0.511,0.525,0.538]],
 ["dpurple",0,[0.36,0.378,0.39,0.41,0.443,0.473,0.506,0.543,0.583,0.624,0.666]],
 ["teal",0,[0.358,0.376,0.388,0.408,0.438,0.463,0.486,0.506,0.524,0.54,0.555]]];
const eLegendLabels=[["A","blue"],["C","yellow"],["D","red"],["R","dgreen"],["S","purple"],["V","dpurple"],["WT","teal"]];

// ---------- grid geometry ----------
const GEO={
 a:{cols:[95,264.3],rows:[40.7,176,313],w:117,h:101,xd:[-9,189],xt:[0,60,120,180],tfs:14.4,ylab:["Fluorescence (a.u.)"],last:2},
 c:{cols:[531,682.7,834,985.3,1137.3,1288.7],rows:[11.7,120.7,230,339.3],w:104.5,h:90.7,xd:[-9,189],xt:[0,60,120,180],ylab:["Fluorescence","(a.u.)"],last:3},
 b:{cols:[74,230,386,541.7],rows:[582.7,693.3,803.3,913.3,1030.7,1142.7,1254],w:108,h:76.3,xd:[-9,189],xt:[0,60,120,180],tfs:14.3,ylab:["Fluorescence","(a.u.)"],last:6},
 d:{cols:[820,1033.3,1247.7],rows:[504,635.7,767.3],w:147.5,h:109.5,xd:[-9,189],xt:[0,60,120,180],ylab:["Fluorescence","(a.u.)"],last:2},
 e:{cols:[804,1009.3,1214],rows:[964.7,1101.3,1237],w:164.3,h:99.5,xd:[-24,504],xt:[0,120,240,360,480],tfs:13.7,ylab:["Fluorescence (a.u.)"],last:2,xpad:4}
};
const TICK_FS=11.7, LAB_FS=11, FIG_H=1370;
const DASH="4.4,1.9", LW=1.35;

const L1=(lab,col,loc="ul",fs=8.5)=>({fs,loc,items:[[lab,COL[col],0]]});
const L2=(l1,c1,l2,c2,loc="ul",fs=8.5)=>({fs,loc,items:[[l1,COL[c1],0],[l2,COL[c2],0]]});

const aPanels=[
 {r:0,c:0,title:"No occluder; De",yd:[0,27300],yt:[0,10000,20000],t:TA,data:aNoDe,
  leg:[{fs:10,title:"crRNA",tfs:11.5,loc:"lr",items:[["De",COL.key,0],["Om",COL.key,1]]}]},
 {r:0,c:1,title:"With occluder; De",yd:[0,24200],yt:[0,10000,20000],t:T13,s:1,data:aWiDe},
 {r:1,c:0,title:"No occluder; Om",yd:[0,27200],yt:[0,10000,20000],t:TA,data:aNoOm},
 {r:1,c:1,title:"With occluder; Om",yd:[0,8170],yt:[0,2500,5000,7500],t:T13,s:1,data:aWiOm},
 {r:2,c:0,title:"No occluder; NTC",yd:[1041,1688],yt:[1200,1400,1600],t:T25,data:aNoNTC},
 {r:2,c:1,title:"With occluder; NTC",yd:[1101,2150],yt:[1500,2000],t:T25,data:aWiNTC,
  leg:[{fs:8.3,loc:"ul",items:[["NTC",COL.ntc,0],["ampNTC",COL.black,0]]}]}];

const cPanels=[
 {r:0,c:0,yd:[-46,5885],yt:[0,2000,4000],t:T13,s:1,data:cP1,leg:[L1("P1","blue")]},
 {r:0,c:1,yd:[204,1509],yt:[500,1000,1500],t:T13,data:cP5,leg:[L1("P5","purple"),
   {fs:8.5,title:"crRNA",tfs:11,loc:[4,22.6],items:[["De",COL.key,0],["Om",COL.key,1]]}]},
 {r:0,c:2,yd:[220,1436],yt:[500,1000],t:T25,data:cP10,leg:[L1("P10","navy")]},
 {r:0,c:3,yd:[220,804],yt:[400,600,800],t:T25,data:cP15,leg:[L1("P15","blue")]},
 {r:0,c:4,yd:[-60,8275],yt:[0,5000],t:T13,s:1,data:cP20,leg:[L1("P20","lgreen")]},
 {r:0,c:5,yd:[254,446],yt:[300,400],t:T25,data:cP24,leg:[L1("P24","crimson")]},
 {r:1,c:0,yd:[-68,8733],yt:[0,5000],t:T25,s:1,data:cP2,leg:[L1("P2","yellow","lr")]},
 {r:1,c:1,yd:[-80,4155],yt:[0,2000,4000],t:T13,s:1,data:cP6,leg:[L1("P6","lgreen")]},
 {r:1,c:2,yd:[-90,8127],yt:[0,5000],t:T13,s:1,data:cP11,leg:[L2("P11","brown","P12","crimson")]},
 {r:1,c:3,yd:[-54,4865],yt:[0,2000,4000],t:T13,s:1,data:cP16,leg:[L1("P16","yellow")]},
 {r:1,c:4,yd:[247,393],yt:[250,300,350],t:T25,data:cP21,leg:[L1("P21","dpurple")]},
 {r:1,c:5,yd:[253,412],yt:[300,400],t:T25,data:cP25,leg:[L1("P25","teal")]},
 {r:2,c:0,yd:[-27,8290],yt:[0,5000],t:T13,s:1,data:cP3,leg:[L1("P3","red")]},
 {r:2,c:1,yd:[-60,5400],yt:[0,2000,4000],t:T13,s:1,data:cP7,leg:[L2("P7","dpurple","P9","lpurple")]},
 {r:2,c:2,yd:[-79,4155],yt:[0,2000,4000],t:T13,s:1,data:cP13,leg:[L1("P13","teal")]},
 {r:2,c:3,yd:[-68,6081],yt:[0,2500,5000],t:T13,s:1,data:cP17,leg:[L2("P17","red","P18","dgreen")]},
 {r:2,c:4,yd:[236,376],yt:[250,300,350],t:T25,data:cP22,leg:[L1("P22","navy")]},
 {r:2,c:5,yd:[234,394],yt:[250,300,350],t:T25,data:cP26,leg:[L1("P26","lav")]},
 {r:3,c:0,yd:[-70,4540],yt:[0,2000,4000],t:T13,s:1,data:cP4,leg:[L1("P4","dgreen")]},
 {r:3,c:1,yd:[1064,1415],yt:[1200,1400],t:T25,data:cP8,leg:[L1("P8","green")]},
 {r:3,c:2,yd:[-51,6572],yt:[0,2500,5000],t:T13,s:1,data:cP14,leg:[L1("P14","lav")]},
 {r:3,c:3,yd:[205,1703],yt:[500,1000,1500],t:T25,data:cP19,leg:[L1("P19","purple")]},
 {r:3,c:4,yd:[230,377],yt:[250,300,350],t:T25,data:cP23,leg:[L1("P23","brown")]},
 {r:3,c:5,yd:[1032,1395],yt:[1100,1200,1300],t:T25,data:cNTC,leg:[L1("NTC","lgray")]}];

const bPanels=[
 {r:0,c:0,title:"2009 H1N1 H",yd:[-42,4493],yt:[0,2000,4000],t:T13,s:1,data:bNo09H,
  leg:[{fs:10.5,title:"crRNA",tfs:11.5,loc:"ul",items:[["H",COL.key,0],["Y",COL.key,1]]}]},
 {r:0,c:1,title:"2009 H1N1 Y",yd:[-82,4711],yt:[0,2000,4000],t:T13,s:1,data:bNo09Y},
 {r:0,c:2,title:"2009 H1N1 H",yd:[0,8236],yt:[0,5000],t:T13,s:1,data:bWi09H},
 {r:0,c:3,title:"2009 H1N1 Y",yd:[-72,7823],yt:[0,5000],t:T13,s:1,data:bWi09Y},
 {r:1,c:0,title:"1934 H1N1 H",yd:[231,2739],yt:[1000,2000],t:T13,s:1,data:bNo34H},
 {r:1,c:1,title:"1934 H1N1 Y",yd:[309,3815],yt:[1000,2000,3000],t:T13,s:1,data:bNo34Y},
 {r:1,c:2,title:"1934 H1N1 H",yd:[317,827],yt:[400,600,800],t:T25,data:bWi34H},
 {r:1,c:3,title:"1934 H1N1 Y",yd:[320,646],yt:[400,600],t:T25,data:bWi34Y},
 {r:2,c:0,title:"1996 H5N1 H",yd:[-73,5411],yt:[0,2000,4000],t:T13,s:1,data:bNo96H},
 {r:2,c:1,title:"1996 H5N1 Y",yd:[-60,11260],yt:[0,5000,10000],t:T13,s:1,data:bNo96Y},
 {r:2,c:2,title:"1996 H5N1 H",yd:[-94,6968],yt:[0,2500,5000],t:T13,s:1,data:bWi96H},
 {r:2,c:3,title:"1996 H5N1 Y",yd:[-67,4960],yt:[0,2000,4000],t:T13,s:1,data:bWi96Y},
 {r:3,c:0,title:"1999 H9N2 H",yd:[-86,6500],yt:[0,2500,5000],t:T13,s:1,data:bNo99H},
 {r:3,c:1,title:"1999 H9N2 Y",yd:[-94,7034],yt:[0,2500,5000],t:T13,s:1,data:bNo99Y},
 {r:3,c:2,title:"1999 H9N2 H",yd:[-200,9447],yt:[0,5000],t:T13,s:1,data:bWi99H},
 {r:3,c:3,title:"1999 H9N2 Y",yd:[-165,7689],yt:[0,5000],t:T13,s:1,data:bWi99Y},
 {r:4,c:0,title:"1968 H2N2 H",yd:[326,483],yt:[350,400,450],t:T25,data:bNo68H},
 {r:4,c:1,title:"1968 H2N2 Y",yd:[323,501],yt:[400,500],t:T25,data:bNo68Y},
 {r:4,c:2,title:"1968 H2N2 H",yd:[315,1465],yt:[500,1000],t:T25,data:bWi68H},
 {r:4,c:3,title:"1968 H2N2 Y",yd:[302,650],yt:[400,600],t:T25,data:bWi68Y},
 {r:5,c:0,title:"2004 H3N2 H",yd:[313,565],yt:[400,500],t:T25,data:bNo04H},
 {r:5,c:1,title:"2004 H3N2 Y",yd:[293,908],yt:[500,750],t:T25,data:bNo04Y},
 {r:5,c:2,title:"2004 H3N2 H",yd:[251,2475],yt:[1000,2000],t:T13,s:1,data:bWi04H},
 {r:5,c:3,title:"2004 H3N2 Y",yd:[324,1130],yt:[500,1000],t:T25,data:bWi04Y},
 {r:6,c:0,title:"NTC 1",yd:[277,485],yt:[300,400],t:T25,data:bNoNTC1},
 {r:6,c:1,title:"NTC 2",yd:[78,465],yt:[200,400],t:T25,data:bNoNTC2},
 {r:6,c:2,title:"NTC 1",yd:[304,450],yt:[350,400],t:T25,data:bWiNTC1},
 {r:6,c:3,title:"NTC 2",yd:[311,529],yt:[400,500],t:T25,data:bWiNTC2}];

const dPanels=[
 {r:0,c:0,yd:[-48,8638],yt:[0,2500,5000,7500],t:T13,s:1,data:dS1H,leg:[L1("S1H","blue","ul",11.5),
   {fs:11.5,title:"crRNA",tfs:11.5,loc:[6,46.7],items:[["H",COL.key,0],["Y",COL.key,1]]}]},
 {r:0,c:1,yd:[-83,9025],yt:[0,2500,5000,7500],t:T25,s:1,data:dS4H,leg:[L1("S4H","dgreen","lr",11.5)]},
 {r:0,c:2,yd:[-53,9591],yt:[0,2500,5000,7500],t:T25,s:1,data:dS3Y,leg:[L1("S3Y","dpurple","lr",11.5)]},
 {r:1,c:0,yd:[129,3962],yt:[1000,2000,3000],t:T13,s:1,data:dS2H,leg:[L1("S2H","yellow","ul",11.5)]},
 {r:1,c:1,yd:[-94,5989],yt:[0,2000,4000],t:T13,s:1,data:dS1Y,leg:[L1("S1Y","purple","ul",11.5)]},
 {r:1,c:2,yd:[-112,8665],yt:[0,2500,5000,7500],t:T25,s:1,data:dS4Y,leg:[L1("S4Y","lpurple","lr",11.5)]},
 {r:2,c:0,yd:[-66,10188],yt:[0,5000,10000],t:T25,s:1,data:dS3H,leg:[L1("S3H","red","lr",11.5)]},
 {r:2,c:1,yd:[-10,9048],yt:[0,2500,5000,7500],t:T25,s:1,data:dS2Y,leg:[L1("S2Y","lgreen","lr",11.5)]},
 {r:2,c:2,yd:[70,398],yt:[100,200,300],t:T25,data:dNTC,
  leg:[{fs:11.5,loc:"lr",items:[["NTC1",COL.lgray,0],["NTC2",COL.gray,0],["NTC3",COL.dgray,0]]}]}];

const ePanels=[
 {r:0,c:0,title:"Target: A",yd:[0.342,0.649],yt:[0.4,0.5,0.6],data:eA,xl:0},
 {r:0,c:1,title:"Target: R",yd:[0.22,3.49],yt:[1,2,3],data:eR,xl:0},
 {r:0,c:2,title:"Target: WT",yd:[0.334,0.683],yt:[0.4,0.5,0.6],data:eWT,xl:0},
 {r:1,c:0,title:"Target: C",yd:[0.16,5.47],yt:[2,4],data:eC,xl:0},
 {r:1,c:1,title:"Target: S",yd:[0.285,2.137],yt:[0.5,1.0,1.5,2.0],data:eS,xl:0},
 {r:1,c:2,title:"Target: NTC",yd:[0.358,0.778],yt:[0.4,0.6],data:eNTC,xl:1},
 {r:2,c:0,title:"Target: D",yd:[0.341,0.649],yt:[0.4,0.5,0.6],data:eD,xl:1},
 {r:2,c:1,title:"Target: V",yd:[0.342,0.69],yt:[0.4,0.5,0.6],data:eV,xl:1}];
ePanels.forEach(p=>{p.t=TE;p.s=1;});

// ---------- drawing ----------
const svg=d3.select("#fig");
const problems=[];
let clipN=0;

function measure(txt,fs){
  const t=svg.append("text").attr("font-size",fs).text(txt);
  const w=t.node().getComputedTextLength(); t.remove(); return w;
}

function drawLegend(g,w,h,L){
  const fs=L.fs,pad=0.4*fs,hl=2*fs,htp=0.8*fs,ls=0.5*fs,cs=2*fs,ncol=L.ncol||1;
  const n=L.items.length, base=Math.floor(n/ncol), extra=n%ncol;
  const perCol=d3.range(ncol).map(i=>base+(i<extra?1:0)).filter(v=>v>0);
  let k=0; const colItems=perCol.map(m=>{const a=L.items.slice(k,k+m);k+=m;return a;});
  const nr=d3.max(perCol);
  const colW=colItems.map(a=>hl+htp+d3.max(a,it=>measure(it[0],fs)));
  const innerW=d3.sum(colW)+(colItems.length-1)*cs;
  const titleH=L.title?L.tfs+ls:0;
  const titleW=L.title?measure(L.title,L.tfs):0;
  const bw=Math.max(innerW,titleW)+2*pad;
  const bh=2*pad+titleH+nr*fs+(nr-1)*ls;
  let bx,by;
  if(L.loc==="ul"){bx=0.5*fs;by=0.5*fs;}
  else if(L.loc==="lr"){bx=w-0.5*fs-bw;by=h-0.5*fs-bh;}
  else {bx=L.loc[0];by=L.loc[1];}
  const lg=g.append("g").attr("transform",`translate(${bx},${by})`);
  lg.append("rect").attr("width",bw).attr("height",bh).attr("rx",0.2*fs)
    .attr("fill","#fff").attr("fill-opacity",0.8).attr("stroke","#d2d2d2").attr("stroke-width",1);
  if(L.title) lg.append("text").attr("x",bw/2).attr("y",pad+L.tfs*0.5).attr("dominant-baseline","central")
    .attr("text-anchor","middle").attr("font-size",L.tfs).text(L.title);
  let cx=pad+(bw-2*pad-innerW)/2;
  colItems.forEach((a,ci)=>{
    a.forEach((it,ri)=>{
      const cy=pad+titleH+ri*(fs+ls)+fs/2;
      lg.append("line").attr("x1",cx).attr("x2",cx+hl).attr("y1",cy).attr("y2",cy)
        .attr("stroke",it[1]).attr("stroke-width",LW).attr("stroke-dasharray",it[2]?DASH:null);
      lg.append("text").attr("x",cx+hl+htp).attr("y",cy).attr("dominant-baseline","central")
        .attr("font-size",fs).text(it[0]);
    });
    cx+=colW[ci]+cs;
  });
}

function styleAxis(ax){
  ax.attr("font-size",TICK_FS);
  ax.select(".domain").remove();
  ax.selectAll(".tick line").attr("stroke","#444").attr("stroke-width",0.9);
  ax.selectAll(".tick text").attr("fill","#222");
}

function drawPanel(sec,p){
  const G=GEO[sec], w=G.w, h=G.h, y0=G.rows[p.r];
  const g=svg.append("g").attr("transform",`translate(${G.cols[p.c]},${y0})`);
  const xs=d3.scaleLinear().domain(G.xd).range([0,w]);
  const ys=d3.scaleLinear().domain(p.yd).range([h,0]);
  const id="clip"+(clipN++);
  g.append("clipPath").attr("id",id).append("rect").attr("width",w).attr("height",h);
  const lines=g.append("g").attr("clip-path",`url(#${id})`);
  const t=p.t;
  const gen=d3.line().defined((d,i)=>i<t.length).x((d,i)=>xs(t[i])).y(d=>ys(d))
    .curve(p.s?d3.curveMonotoneX:d3.curveLinear);
  p.data.forEach((s,k)=>{
    if(s[2].length!==t.length) problems.push(`${sec} r${p.r}c${p.c} #${k}: ${s[2].length}/${t.length}`);
    lines.append("path").attr("d",gen(s[2])).attr("fill","none").attr("stroke",COL[s[0]])
      .attr("stroke-width",LW).attr("stroke-linejoin","round").attr("stroke-dasharray",s[1]?DASH:null);
  });
  g.append("rect").attr("width",w).attr("height",h).attr("fill","none").attr("stroke","#707070").attr("stroke-width",1.2);
  const fmt=p.yt.some(v=>!Number.isInteger(v))?d3.format(".1f"):d3.format("d");
  const ya=g.append("g").call(d3.axisLeft(ys).tickValues(p.yt).tickFormat(fmt).tickSize(3.5).tickPadding(4.2));
  styleAxis(ya);
  const showX=p.xl!==undefined?p.xl:(p.r===G.last);
  const xa=g.append("g").attr("transform",`translate(0,${h})`)
    .call(d3.axisBottom(xs).tickValues(G.xt).tickSize(3.5).tickPadding(G.xpad||5).tickFormat(showX?d3.format("d"):""));
  styleAxis(xa);
  if(p.title) g.append("text").attr("x",w/2).attr("y",-5).attr("text-anchor","middle").attr("font-size",G.tfs).text(p.title);
  if(p.c===0){
    const bb=ya.node().getBBox();
    const xb=bb.x-3.5-0.25*LAB_FS, n=G.ylab.length;
    G.ylab.forEach((txt,i)=>{
      g.append("text").attr("transform",`translate(${xb-(n-1-i)*1.05*LAB_FS},${h/2}) rotate(-90)`)
        .attr("text-anchor","middle").attr("font-size",LAB_FS).text(txt);
    });
  }
  if(showX){
    // the lowest axis labels sit against the figure's bottom edge: keep them inside it
    const fs=(y0+h+29.5>FIG_H-3)?11:TICK_FS;
    const ly=Math.min(h+29.5, FIG_H-0.26*fs-y0);
    g.append("text").attr("x",w/2).attr("y",ly).attr("text-anchor","middle").attr("font-size",fs).text("Time (min)");
  }
  (p.leg||[]).forEach(L=>drawLegend(g,w,h,L));
  return g;
}

aPanels.forEach(p=>drawPanel("a",p));
cPanels.forEach(p=>drawPanel("c",p));
bPanels.forEach(p=>drawPanel("b",p));
dPanels.forEach(p=>drawPanel("d",p));
ePanels.forEach(p=>drawPanel("e",p));

// shared crRNA legend for section e, placed in the empty grid cell
{
  const G=GEO.e;
  const g=svg.append("g").attr("transform",`translate(${G.cols[2]},${G.rows[2]})`);
  drawLegend(g,G.w,G.h,{fs:10.6,title:"crRNA",tfs:11.7,ncol:3,loc:[-1.7,32.3],
    items:eLegendLabels.map(d=>[d[0],COL[d[1]],0])});
}

// section letters and column headings
[["a",19,18.5],["c",421,18.5],["b",20,530],["d",715,531],["e",715,958]].forEach(d=>{
  svg.append("text").attr("x",d[1]).attr("y",d[2]).attr("font-size",18).text(d[0]);
});
svg.append("text").attr("x",205).attr("y",541).attr("text-anchor","middle").attr("font-size",22).text("No occluder");
svg.append("text").attr("x",511).attr("y",541).attr("text-anchor","middle").attr("font-size",22).text("With occluder");

if(problems.length) throw new Error("length mismatch: "+problems.join("; "));
</script>
</body></html>
